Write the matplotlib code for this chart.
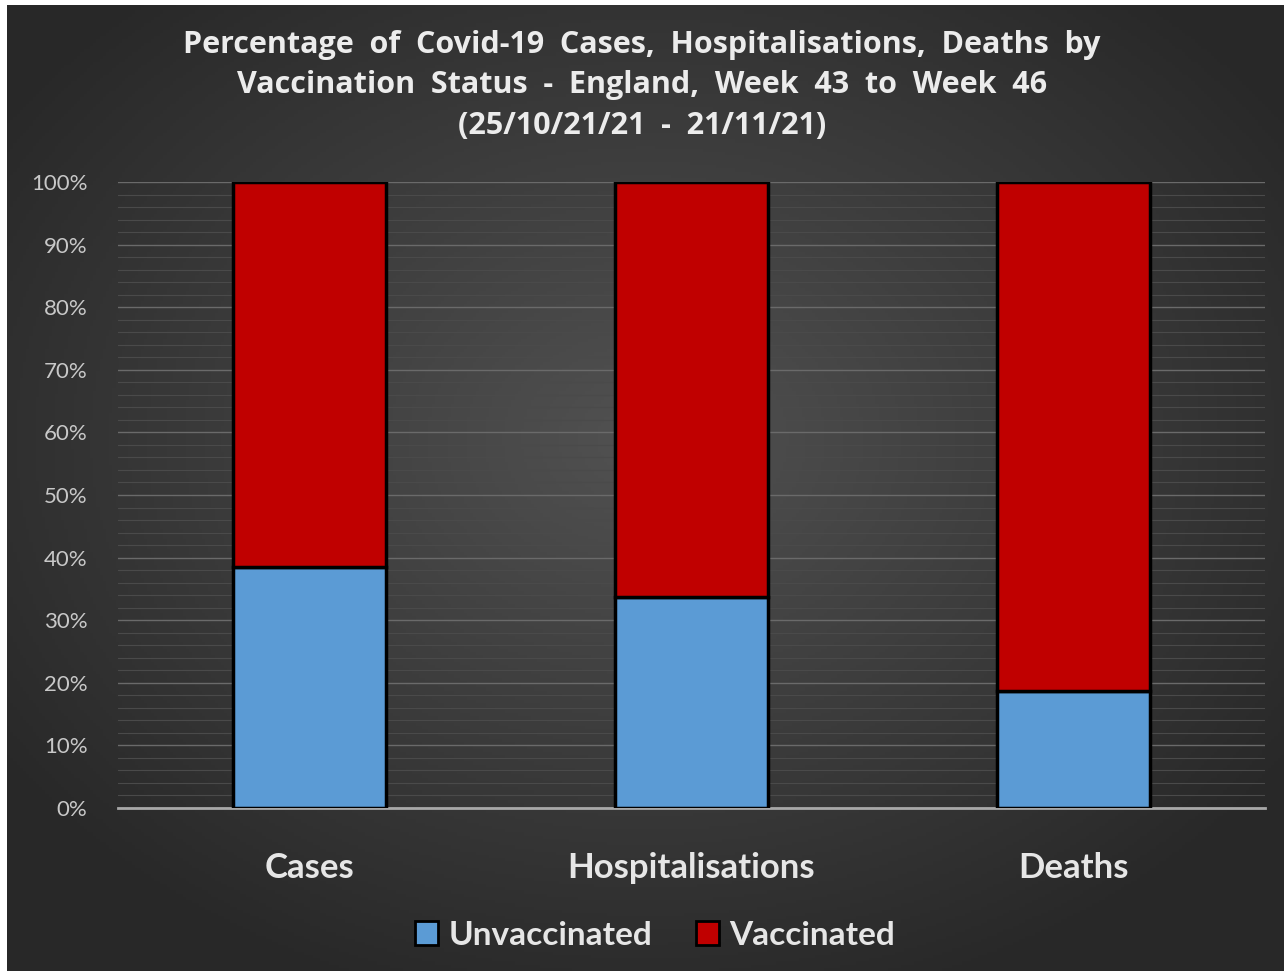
import numpy as np
import matplotlib
matplotlib.use('Agg')
import matplotlib.pyplot as plt
from matplotlib.ticker import MultipleLocator, PercentFormatter
from matplotlib.patches import Patch

categories = ['Cases', 'Hospitalisations', 'Deaths']
unvaccinated = [38.5, 33.7, 18.7]
vaccinated = [100 - u for u in unvaccinated]
series_names = ['Unvaccinated', 'Vaccinated']
title = ('Percentage  of  Covid-19  Cases,  Hospitalisations,  Deaths  by\n'
         'Vaccination  Status  -  England,  Week  43  to  Week  46\n'
         '(25/10/21/21  -  21/11/21)')

plt.rcParams['font.family'] = ['Lato', 'DejaVu Sans']

fig = plt.figure(figsize=(12.84, 9.71), dpi=100)
fig.patch.set_facecolor('white')

# dark radial gradient background, white strip at top/left like the source image
bg = fig.add_axes([7/1284, 0, 1 - 7/1284, 1 - 5/971], zorder=-10)
yy, xx = np.mgrid[0:1:300j, 0:1:400j]
r = np.sqrt(((xx - 0.5) / 0.75) ** 2 + ((yy - 0.45) / 0.75) ** 2)
shade = np.clip(0.32 - 0.2 * r, 0.16, 0.32)
bg.imshow(np.dstack([shade, shade, shade]), aspect='auto', extent=[0, 1, 0, 1])
bg.axis('off')

ax = fig.add_axes([118/1284, 1 - 808/971, (1265 - 118)/1284, (808 - 182)/971])
ax.patch.set_alpha(0)

x = np.arange(len(categories))
w = 0.4
ax.bar(x, unvaccinated, w, color='#5b9bd5', edgecolor='black', linewidth=2.5,
       label=series_names[0], zorder=3)
ax.bar(x, vaccinated, w, bottom=unvaccinated, color='#c00000', edgecolor='black',
       linewidth=2.5, label=series_names[1], zorder=3)

ax.set_xlim(-0.5, 2.5)
ax.set_ylim(0, 100)
ax.yaxis.set_major_locator(MultipleLocator(10))
ax.yaxis.set_minor_locator(MultipleLocator(2))
ax.yaxis.set_major_formatter(PercentFormatter(decimals=0))
ax.grid(axis='y', which='major', color='#6a6a6a', linewidth=1, zorder=0)
ax.grid(axis='y', which='minor', color='#4a4a4a', linewidth=0.8, zorder=0)
for s in ['top', 'right', 'left']:
    ax.spines[s].set_visible(False)
ax.spines['bottom'].set_color('#a8a8a8')
ax.spines['bottom'].set_linewidth(2)

ax.set_xticks(x)
ax.set_xticklabels(categories, fontsize=25, fontweight='bold', color='#e6e6e6')
ax.tick_params(axis='x', length=0, pad=32)
ax.tick_params(axis='y', which='both', length=0, labelsize=16, labelcolor='#c8c8c8', pad=22)

fig.text(0.5, 1 - 30/971, title, ha='center', va='top', fontsize=22, fontweight='bold',
         color='#ececec', linespacing=1.45, family=['Open Sans', 'DejaVu Sans'])

handles = [Patch(facecolor='#5b9bd5', edgecolor='black', linewidth=2),
           Patch(facecolor='#c00000', edgecolor='black', linewidth=2)]
leg = fig.legend(handles, series_names, loc='center', bbox_to_anchor=(0.51, 0.037),
                 ncol=2, frameon=False, fontsize=24, handlelength=0.7, handleheight=0.7,
                 handletextpad=0.3, columnspacing=1.3)
for t in leg.get_texts():
    t.set_color('#e6e6e6')
    t.set_fontweight('bold')

fig.savefig('out.png', dpi=100)
